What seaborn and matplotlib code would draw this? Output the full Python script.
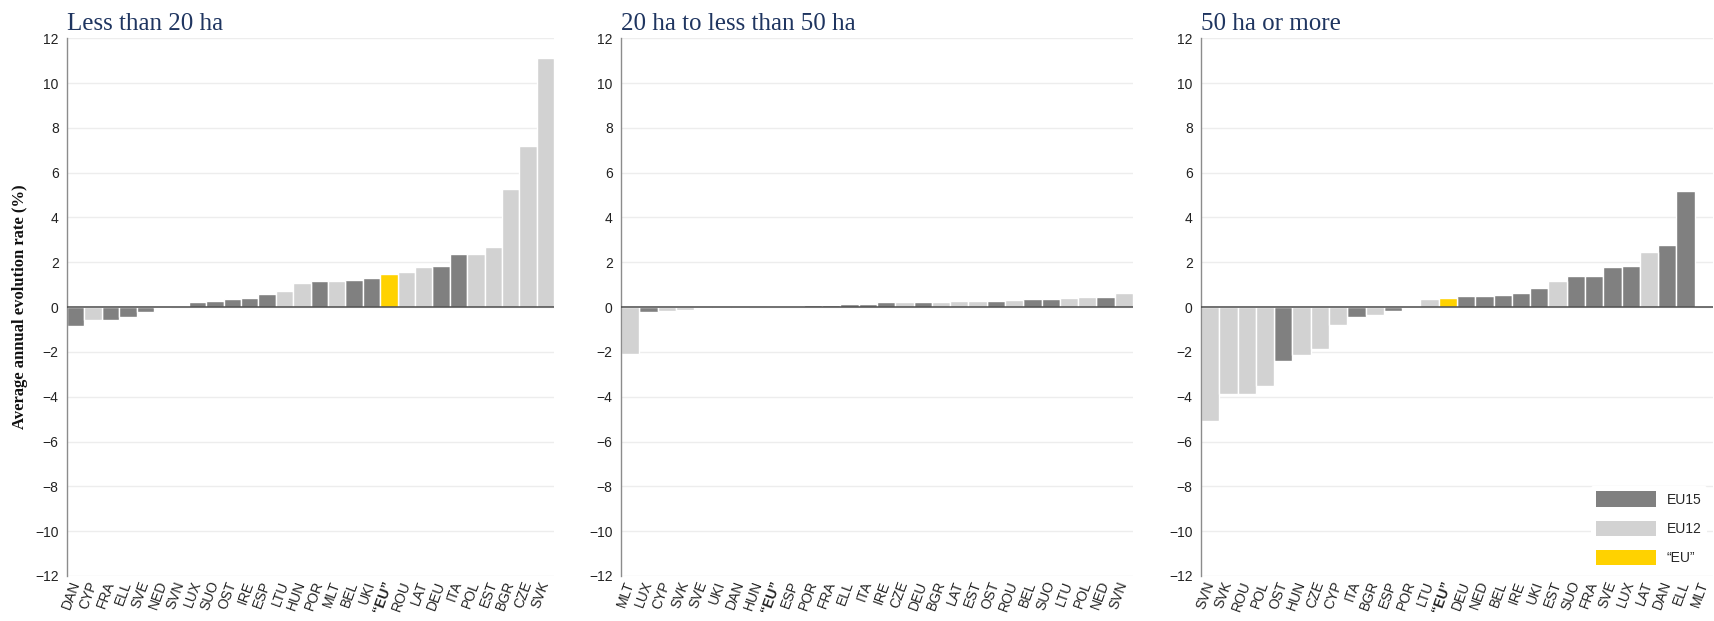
import numpy as np
import pandas as pd
import matplotlib
matplotlib.use("Agg")
import matplotlib.pyplot as plt
from matplotlib.patches import Patch
import seaborn as sns

# ---- data -------------------------------------------------------------
EU_LABEL = "\u201cEU\u201d"

eu15 = ["BEL", "DAN", "DEU", "ELL", "ESP", "FRA", "IRE", "ITA", "LUX",
        "NED", "OST", "POR", "SUO", "SVE", "UKI"]
eu12 = ["BGR", "CYP", "CZE", "EST", "HUN", "LAT", "LTU", "MLT", "POL",
        "ROU", "SVK", "SVN"]

titles = ["Less than 20 ha", "20 ha to less than 50 ha", "50 ha or more"]

countries_small = ["DAN", "CYP", "FRA", "ELL", "SVE", "NED", "SVN", "LUX",
                   "SUO", "OST", "IRE", "ESP", "LTU", "HUN", "POR", "MLT",
                   "BEL", "UKI", EU_LABEL, "ROU", "LAT", "DEU", "ITA", "POL",
                   "EST", "BGR", "CZE", "SVK"]
values_small = [-0.86, -0.58, -0.56, -0.45, -0.23, -0.05, 0.01, 0.24,
                0.29, 0.36, 0.39, 0.60, 0.74, 1.08, 1.16, 1.18,
                1.22, 1.28, 1.46, 1.57, 1.80, 1.83, 2.37, 2.37,
                2.70, 5.28, 7.18, 11.12]

countries_mid = ["MLT", "LUX", "CYP", "SVK", "SVE", "UKI", "DAN", "HUN",
                 EU_LABEL, "ESP", "POR", "FRA", "ELL", "ITA", "IRE", "CZE",
                 "DEU", "BGR", "LAT", "EST", "OST", "ROU", "BEL", "SUO",
                 "LTU", "POL", "NED", "SVN"]
values_mid = [-2.10, -0.20, -0.19, -0.14, -0.06, -0.03, -0.02, -0.01,
              0.06, 0.07, 0.09, 0.11, 0.12, 0.12, 0.21, 0.21,
              0.22, 0.24, 0.26, 0.28, 0.29, 0.30, 0.36, 0.38,
              0.42, 0.44, 0.45, 0.63]

countries_large = ["SVN", "SVK", "ROU", "POL", "OST", "HUN", "CZE", "CYP",
                   "ITA", "BGR", "ESP", "POR", "LTU", EU_LABEL, "DEU", "NED",
                   "BEL", "IRE", "UKI", "EST", "SUO", "FRA", "SVE", "LUX",
                   "LAT", "DAN", "ELL", "MLT"]
values_large = [-5.07, -3.90, -3.90, -3.52, -2.41, -2.15, -1.85, -0.79,
                -0.46, -0.35, -0.19, -0.02, 0.34, 0.42, 0.48, 0.49,
                0.54, 0.63, 0.85, 1.15, 1.39, 1.40, 1.81, 1.84,
                2.48, 2.78, 5.18, np.nan]

panels = [(countries_small, values_small),
          (countries_mid, values_mid),
          (countries_large, values_large)]

group_order = ["EU15", "EU12", EU_LABEL]
palette = {"EU15": "#808080", "EU12": "#D2D2D2", EU_LABEL: "#FFD200"}


def group_of(code):
    if code == EU_LABEL:
        return EU_LABEL
    return "EU15" if code in eu15 else "EU12"


# ---- figure -----------------------------------------------------------
sns.set_style("white")
plt.rcParams["font.family"] = ["Liberation Sans", "DejaVu Sans"]

fig = plt.figure(figsize=(17.15, 6.21), dpi=100)
bottom, height = 0.0725, 0.866
rects = [(0.0391, bottom, 0.284, height),
         (0.3621, bottom, 0.2985, height),
         (0.7003, bottom, 0.2985, height)]

for i, ((codes, vals), title, rect) in enumerate(zip(panels, titles, rects)):
    ax = fig.add_axes(rect)
    df = pd.DataFrame({"country": codes, "value": vals,
                       "group": [group_of(c) for c in codes]})
    sns.barplot(data=df, x="country", y="value", hue="group",
                order=codes, hue_order=group_order, palette=palette,
                dodge=False, width=1.0, saturation=1,
                edgecolor="white", linewidth=1.0, legend=False, ax=ax)

    ax.set_xlim(-0.5, len(codes) - 0.5)
    ax.set_ylim(-12, 12)
    ax.set_yticks(np.arange(-12, 13, 2))
    ax.yaxis.grid(True, color="#EDEDED", linewidth=1.0)
    ax.set_axisbelow(True)
    ax.axhline(0, color="#4A4A4A", linewidth=1.1, zorder=4)

    for side in ("top", "right", "bottom"):
        ax.spines[side].set_visible(False)
    ax.spines["left"].set_color("#8C8C8C")
    ax.spines["left"].set_linewidth(1.0)

    ax.tick_params(axis="y", length=4, width=0.8, color="#8C8C8C",
                   labelsize=10, labelcolor="#222222", pad=2)
    ax.tick_params(axis="x", length=0, labelsize=10, labelcolor="#222222",
                   pad=4)
    ax.set_xticks(range(len(codes)))
    ax.set_xticklabels(codes, rotation=70, ha="right", va="center",
                       rotation_mode="anchor")
    for lab in ax.get_xticklabels():
        if lab.get_text() == EU_LABEL:
            lab.set_fontweight("bold")

    ax.set_xlabel("")
    ax.set_ylabel("")
    ax.set_title(title, loc="left", fontsize=18, color="#1F3560",
                 family="Liberation Serif", pad=6)

    if i == 0:
        ax.set_ylabel("Average annual evolution rate (%)", fontsize=12,
                      fontweight="bold", family="Liberation Serif",
                      color="#111111", labelpad=5)
    if i == 2:
        handles = [Patch(facecolor=palette[g], edgecolor="none")
                   for g in group_order]
        leg = ax.legend(handles, group_order, loc="lower right",
                        bbox_to_anchor=(1.0, 0.0), frameon=True,
                        facecolor="white", edgecolor="none", framealpha=1,
                        fontsize=10, handlelength=4.3, handleheight=1.3,
                        labelspacing=1.0, handletextpad=0.8,
                        borderaxespad=0.4)

fig.savefig("out.png", dpi=100)
